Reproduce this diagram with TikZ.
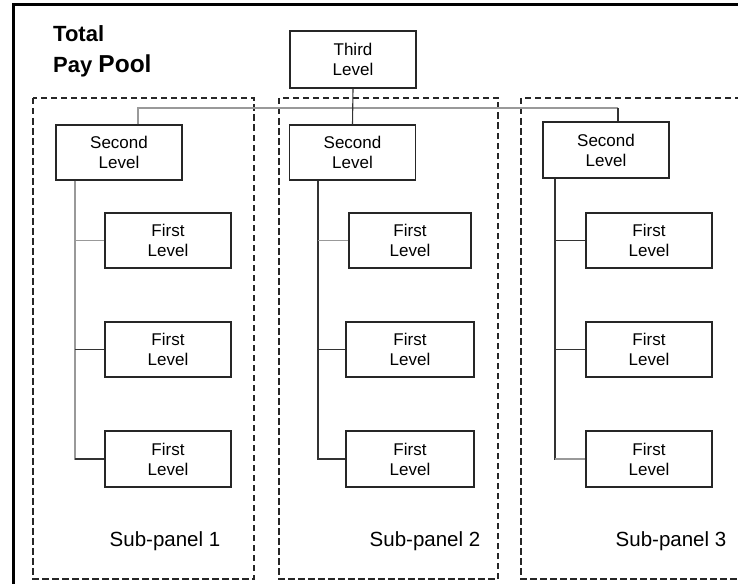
\documentclass[tikz,border=0pt]{standalone}
\usepackage{fontspec}
\setmainfont{Liberation Sans}
\begin{document}
\begin{tikzpicture}[x=1pt,y=-1pt,
  box/.style={draw=black!85, line width=1.1pt, inner sep=0pt, align=center,
    font=\fontsize{17}{20}\selectfont, minimum width=126pt, minimum height=55pt},
  panel/.style={draw=black!85, line width=1.1pt, dash pattern=on 6.5pt off 3.5pt},
  darkline/.style={draw=black!80, line width=1.1pt},
  greyline/.style={draw=black!40, line width=1.3pt},
  lbl/.style={font=\fontsize{20.5}{24}\selectfont, inner sep=0pt}]
\useasboundingbox (0,0) rectangle (738,583);
\clip (0,0) rectangle (738,583);
% outer frame
\draw[line width=3pt, black] (13,590) -- (13,5) -- (745,5);
% panels
\draw[panel] (33,98) rectangle (254,579);
\draw[panel] (279,98) rectangle (498,579);
\draw[panel] (521,98) rectangle (760,579);
% title
\node[anchor=base west, inner sep=0pt, font=\fontsize{22}{24}\selectfont\bfseries] (t1) at (53,42) {Total};
\node[anchor=base west, inner sep=0pt, font=\fontsize{22}{24}\selectfont\bfseries] (t2) at (53,73) {Pay {\fontsize{24.5}{26}\selectfont Pool}};
% boxes
\node[box, minimum height=57pt] (third) at (353,59.5) {Third\\Level};
\node[box] (s1) at (119,152.5) {Second\\Level};
\node[box] (s2) at (352.5,152.5) {Second\\Level};
\node[box, minimum height=56pt] (s3) at (606,150) {Second\\Level};
\node[box] (f11) at (168,240.5) {First\\Level};
\node[box] (f12) at (168,349.5) {First\\Level};
\node[box, minimum height=56pt] (f13) at (168,459) {First\\Level};
\node[box, minimum width=122pt] (f21) at (410,240.5) {First\\Level};
\node[box, minimum width=128pt] (f22) at (410,349.5) {First\\Level};
\node[box, minimum width=128pt, minimum height=56pt] (f23) at (410,459) {First\\Level};
\node[box] (f31) at (649,240.5) {First\\Level};
\node[box] (f32) at (649,349.5) {First\\Level};
\node[box, minimum height=56pt] (f33) at (649,459) {First\\Level};
% labels
\node[lbl] (p1) at (165,541) {Sub-panel 1};
\node[lbl] (p2) at (425,541) {Sub-panel 2};
\node[lbl] (p3) at (671,541) {Sub-panel 3};
% top connectors
\coordinate (hl) at (138,108);
\coordinate (hr) at (618,108);
\draw[greyline] (s1.north -| hl) -- (hl) -- (hr);
\draw[darkline] (hr) -- (s3.north -| hr);
\draw[darkline] (third.south) -- (s2.north);
% panel 1 tree
\coordinate (k1) at (75,460);
\draw[greyline] (k1 |- s1.south) -- (k1);
\draw[greyline] (f11.west) -- (f11.west -| k1);
\draw[darkline] (f12.west) -- (f12.west -| k1);
\draw[darkline] (f13.west) -- (f13.west -| k1);
% panel 2 tree
\coordinate (k2) at (318,460);
\draw[darkline] (k2 |- s2.south) -- (k2);
\draw[greyline] (f21.west) -- (f21.west -| k2);
\draw[darkline] (f22.west) -- (f22.west -| k2);
\draw[darkline] (f23.west) -- (f23.west -| k2);
% panel 3 tree
\coordinate (k3) at (555,460);
\draw[darkline] (k3 |- s3.south) -- (k3);
\draw[darkline] (f31.west) -- (f31.west -| k3);
\draw[darkline] (f32.west) -- (f32.west -| k3);
\draw[greyline] (f33.west) -- (f33.west -| k3);
\end{tikzpicture}
\end{document}
